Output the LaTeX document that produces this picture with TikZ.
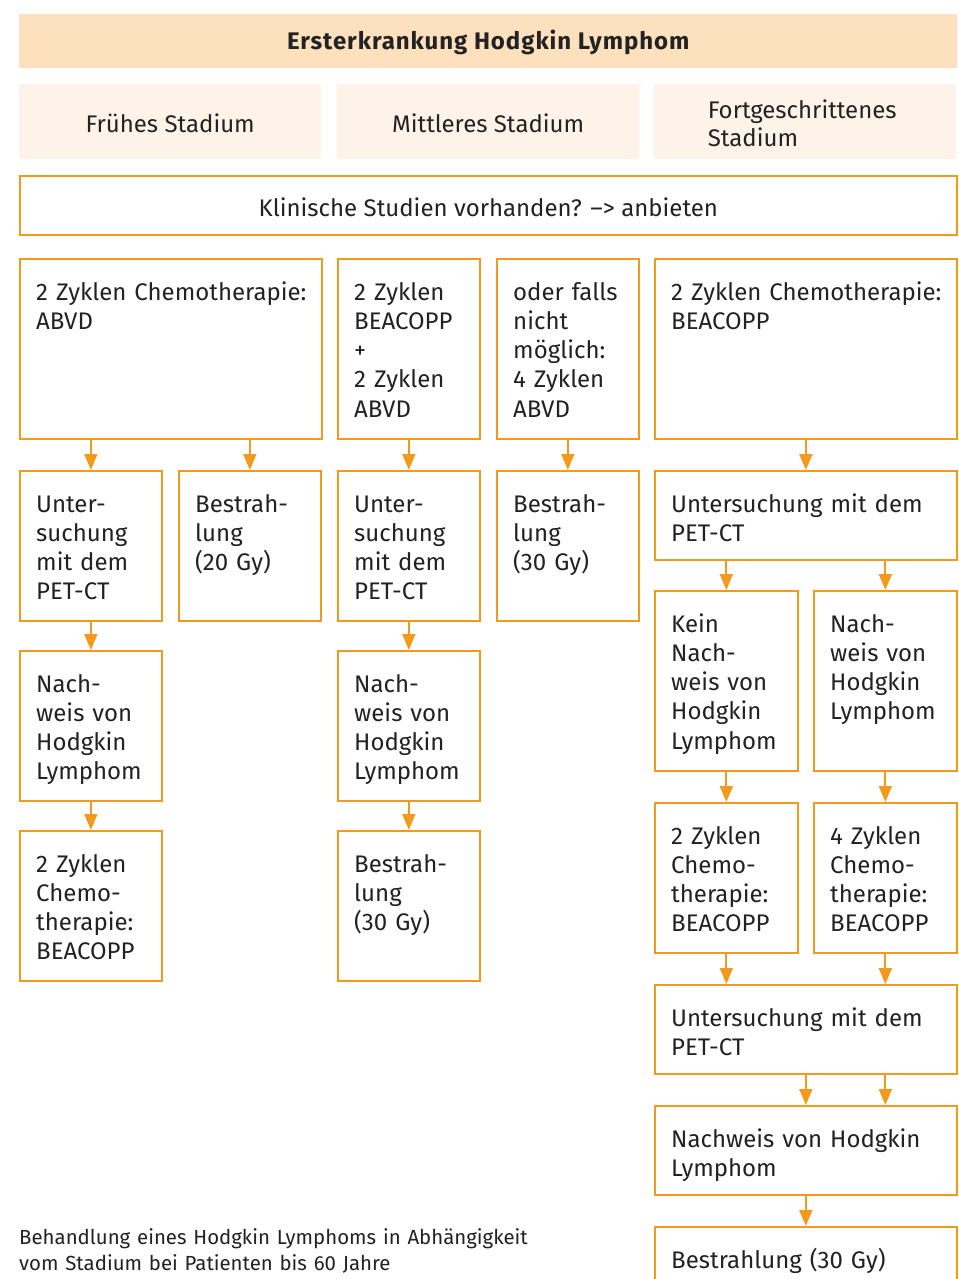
\documentclass[tikz,border=0pt]{standalone}
\usepackage{fontspec}
\setmainfont{Fira Sans}
\newfontfamily\titlefont[LetterSpace=4]{Fira Sans Bold}
\usetikzlibrary{arrows.meta}
\definecolor{orng}{HTML}{F39A1E}
\definecolor{titlefill}{HTML}{FDE0BE}
\definecolor{stagefill}{HTML}{FEF3E8}
\definecolor{ink}{HTML}{222222}
\newcommand\fbx[6]{%
  \node[box, minimum width=#4pt, minimum height=#5pt] (#1) at (#2,#3) {};
  \node[txt] (#1t) at ([xshift=17pt,yshift=-42pt]#1.north west) {#6};}
\begin{document}
\begin{tikzpicture}[x=1pt,y=-1pt,
  box/.style={draw=orng, line width=1.7pt, fill=white, inner sep=0pt, anchor=north west},
  band/.style={inner sep=0pt, anchor=north west, text=ink, font=\fontsize{24}{28}\selectfont},
  txt/.style={inner sep=0pt, anchor=base west, align=left, text width=400pt, text=ink,
    font=\fontsize{24}{29.3}\selectfont},
  arr/.style={draw=orng, line width=1.8pt, -{Triangle[width=13pt,length=16pt]}}
]
\useasboundingbox (0,0) rectangle (958,1279);
\clip (0,0) rectangle (958,1279);
\fill[white] (0,0) rectangle (958,1279);

% title and stages
\node[band, fill=titlefill, minimum width=938pt, minimum height=54pt] (title) at (19,14) {};
\node[text=ink, font=\fontsize{24}{28}\titlefont] (titlet) at ([yshift=-1pt]title.center) {Ersterkrankung Hodgkin Lymphom};
\node[band, fill=stagefill, minimum width=302pt, minimum height=75pt] (s1) at (19,84) {};
\node[band, fill=stagefill, minimum width=302pt, minimum height=75pt] (s2) at (337,84) {};
\node[band, fill=stagefill, minimum width=302pt, minimum height=75pt] (s3) at (654,84) {};
\node[text=ink, font=\fontsize{24}{28}\selectfont] (s1t) at ([yshift=-2pt]s1.center) {Frühes Stadium};
\node[text=ink, font=\fontsize{24}{28}\selectfont] (s2t) at ([yshift=-2pt]s2.center) {Mittleres Stadium};
\node[text=ink, font=\fontsize{24}{28}\selectfont, align=left, inner sep=0pt] (s3t) at ([xshift=-3pt,yshift=-2pt]s3.center) {Fortgeschrittenes\\Stadium};

% clinical studies
\node[box, minimum width=937pt, minimum height=59pt] (k) at (19,175) {};
\node[text=ink, font=\fontsize{24}{28}\selectfont] (kt) at ([yshift=-2pt]k.center) {Klinische Studien vorhanden? –> anbieten};

% row 1
\fbx{a}{19}{258}{302}{180}{2 Zyklen Chemotherapie:\\ABVD}
\fbx{b}{337}{258}{142}{180}{2 Zyklen\\BEACOPP\\+\\2 Zyklen\\ABVD}
\fbx{c}{496}{258}{142}{180}{oder falls\\nicht\\möglich:\\4 Zyklen\\ABVD}
\fbx{d}{654}{258}{302}{180}{2 Zyklen Chemotherapie:\\BEACOPP}

% row 2
\fbx{u1}{19}{470}{142}{150}{Unter-\\suchung\\mit dem\\PET-CT}
\fbx{r1}{178}{470}{142}{150}{Bestrah-\\lung\\(20 Gy)}
\fbx{u2}{337}{470}{142}{150}{Unter-\\suchung\\mit dem\\PET-CT}
\fbx{r2}{496}{470}{142}{150}{Bestrah-\\lung\\(30 Gy)}
\fbx{p1}{654}{470}{302}{89}{Untersuchung mit dem\\PET-CT}

% row 3
\fbx{n1}{19}{650}{142}{150}{Nach-\\weis von\\Hodgkin\\Lymphom}
\fbx{n2}{337}{650}{142}{150}{Nach-\\weis von\\Hodgkin\\Lymphom}
\fbx{kn}{654}{590}{143}{180}{Kein\\Nach-\\weis von\\Hodgkin\\Lymphom}
\fbx{nn}{813}{590}{143}{180}{Nach-\\weis von\\Hodgkin\\Lymphom}

% row 4
\fbx{z1}{19}{830}{142}{150}{2 Zyklen\\Chemo-\\therapie:\\BEACOPP}
\fbx{r3}{337}{830}{142}{150}{Bestrah-\\lung\\(30 Gy)}
\fbx{z2}{654}{802}{143}{150}{2 Zyklen\\Chemo-\\therapie:\\BEACOPP}
\fbx{z3}{813}{802}{143}{150}{4 Zyklen\\Chemo-\\therapie:\\BEACOPP}

% lower right
\fbx{p2}{654}{984}{302}{89}{Untersuchung mit dem\\PET-CT}
\fbx{n3}{654}{1105}{302}{89}{Nachweis von Hodgkin\\Lymphom}
\fbx{r4}{654}{1226}{302}{90}{Bestrahlung (30 Gy)}

% arrows
\draw[arr] (a.south -| u1.north) -- (u1.north);
\draw[arr] (a.south -| r1.north) -- (r1.north);
\draw[arr] (b.south) -- (u2.north);
\draw[arr] (c.south) -- (r2.north);
\draw[arr] (d.south) -- (p1.north);
\draw[arr] (u1.south) -- (n1.north);
\draw[arr] (u2.south) -- (n2.north);
\draw[arr] (n1.south) -- (z1.north);
\draw[arr] (n2.south) -- (r3.north);
\draw[arr] (p1.south -| kn.north) -- (kn.north);
\draw[arr] (p1.south -| nn.north) -- (nn.north);
\draw[arr] (kn.south) -- (z2.north);
\draw[arr] (nn.south) -- (z3.north);
\draw[arr] (z2.south) -- (p2.north -| z2.south);
\draw[arr] (z3.south) -- (p2.north -| z3.south);
\draw[arr] (p2.south) -- (n3.north);
\draw[arr] (p2.south -| z3.south) -- (n3.north -| z3.south);
\draw[arr] (n3.south) -- (r4.north);

% caption
\node[inner sep=0pt, anchor=base west, align=left, text width=600pt, text=ink,
  font=\fontsize{20.4}{26}\selectfont] (cap) at (19,1244)
  {Behandlung eines Hodgkin Lymphoms in Abhängigkeit\\vom Stadium bei Patienten bis 60 Jahre};
\end{tikzpicture}
\end{document}
